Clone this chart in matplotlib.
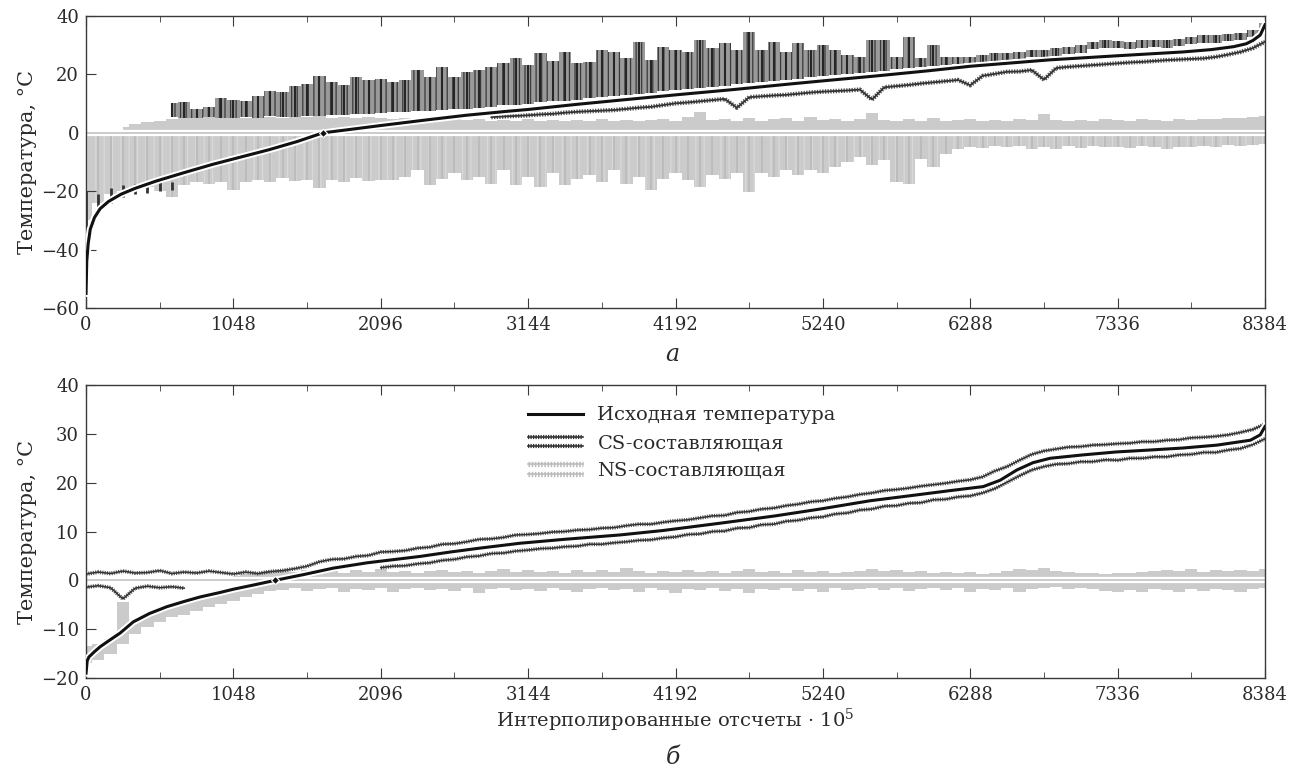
import numpy as np
import matplotlib.pyplot as plt
import matplotlib.patheffects as pe
from matplotlib.lines import Line2D
from matplotlib.legend_handler import HandlerBase

plt.rcParams['font.family'] = ['DejaVu Serif']
plt.rcParams['mathtext.fontset'] = 'dejavuserif'
plt.rcParams['hatch.linewidth'] = 0.9

# общая сетка отсчетов (шаг 8384/96)
X_MAX = 8384
xg = np.linspace(0, X_MAX, 97)
x_ticks = [0, 1048, 2096, 3144, 4192, 5240, 6288, 7336, 8384]

# ---------------- панель а ----------------
temp_a_x = [0, 5, 15, 30, 60, 100, 160, 250, 350, 500, 700, 900, 1100, 1300, 1500, 1685,
            1900, 2096, 2400, 2700, 3000, 3144, 3500, 3800, 4192, 4600, 5000, 5240, 5600,
            6000, 6288, 6855, 7336, 7800, 8000, 8160, 8250, 8300, 8350, 8384]
temp_a_y = [-55, -44, -38, -33, -29, -26, -23.5, -21, -19, -16.5, -13.6, -10.8, -8.3, -5.8,
            -3.0, 0, 1.3, 2.5, 4.3, 6.0, 7.4, 8.0, 9.8, 11.2, 13.0, 14.8, 16.7, 17.8, 19.4,
            21.3, 22.8, 25.0, 26.4, 27.7, 28.5, 29.5, 30.5, 31.7, 33.5, 37.0]
cross_a = 1685

# CS, верхняя полоса (k = 7..96)
cs_a_up_top = [10.1, 10.6, 8.0, 8.7, 11.8, 11.4, 11.0, 12.6, 14.4, 14.0,
               16.0, 16.7, 19.5, 17.5, 16.3, 19.0, 18.0, 18.6, 17.5, 18.0,
               21.5, 19.2, 22.4, 19.2, 20.9, 21.5, 22.6, 23.8, 25.5, 23.2,
               27.2, 24.7, 27.7, 23.8, 24.4, 28.3, 27.7, 25.5, 31.2, 24.9,
               29.5, 28.3, 27.7, 31.7, 28.9, 30.6, 28.3, 34.6, 28.3, 31.2,
               27.7, 30.6, 28.3, 30.0, 28.3, 26.6, 26.1, 31.7, 31.9, 26.1,
               32.9, 25.5, 30.0, 26.1, 26.1, 26.1, 26.6, 27.2, 27.4, 27.7,
               28.3, 28.5, 28.9, 29.5, 30.0, 31.2, 31.7, 31.5, 31.2, 31.7,
               31.9, 31.7, 32.3, 32.9, 33.4, 33.4, 34.0, 34.2, 35.2, 37.5]
cs_a_up_base = [5.5, 5.2, 5.0, 5.3, 5.1, 5.0, 5.4, 5.2, 5.6, 5.3,
                5.5, 5.8, 5.8, 6.0, 6.1, 6.3, 6.5, 6.8, 7.0, 7.2,
                7.4, 7.6, 7.8, 8.0, 8.2, 8.6, 9.0, 9.4, 9.7, 10.0,
                10.4, 10.8, 11.0, 11.4, 11.8, 12.2, 12.6, 13.0, 13.4, 13.8,
                14.2, 14.6, 15.0, 15.4, 15.8, 16.2, 16.6, 17.0, 17.4, 17.8,
                18.2, 18.6, 19.0, 19.4, 19.7, 20.1, 20.5, 20.9, 21.3, 21.7,
                22.1, 22.5, 22.9, 23.3, 23.5, 23.8, 24.1, 24.7, 24.9, 25.2,
                25.8, 26.0, 26.4, 27.0, 27.5, 28.7, 29.2, 29.0, 28.7, 29.2,
                29.4, 29.2, 29.8, 30.4, 30.9, 30.9, 31.5, 31.7, 32.7, 36.0]
# CS, нижняя полоса (k = 33..96)
cs_a_low = [5.4, 5.6, 5.8, 6.0, 6.3, 6.5, 6.9, 7.2, 7.4, 7.6,
            7.8, 8.2, 8.6, 8.9, 9.5, 10.1, 10.4, 10.8, 11.2, 11.6,
            8.6, 12.2, 12.5, 12.8, 13.0, 13.4, 13.8, 14.1, 14.3, 14.5,
            14.8, 11.4, 15.6, 16.0, 16.4, 16.9, 17.3, 17.7, 18.1, 16.3,
            19.5, 20.2, 20.9, 21.0, 21.5, 18.2, 22.2, 22.6, 22.9, 23.2,
            23.5, 23.8, 24.1, 24.3, 24.6, 24.9, 25.1, 25.3, 25.5, 26.0,
            26.8, 27.7, 29.0, 31.2]
# CS в начале ряда (k = 0..7)
cs_a_start_bot = [-34, -28, -24, -22, -21, -20.5, -20, -19.5]
cs_a_start_top = [-20, -21, -19, -18, -17.5, -17, -16.5, -17]

# NS, положительная часть (k = 3..96)
ns_a_up = [2.0, 3.0, 3.6, 4.2, 4.6, 5.0, 5.3, 5.5,
           5.0, 5.6, 5.2, 5.8, 5.4, 5.0, 5.6, 5.3, 5.7, 5.2,
           5.5, 5.0, 5.4, 5.1, 4.6, 5.0, 4.4, 4.8, 4.2, 4.6,
           4.3, 4.8, 4.1, 4.5, 4.0, 4.6, 4.2, 4.4, 3.9, 4.5,
           4.1, 4.7, 4.0, 4.4, 3.9, 4.3, 4.6, 4.0, 5.5, 7.0,
           4.3, 4.6, 4.0, 5.2, 4.2, 4.6, 5.0, 4.1, 5.4, 4.3,
           4.6, 4.0, 4.8, 6.8, 4.4, 4.0, 4.7, 4.2, 5.0, 4.1,
           4.4, 4.6, 4.0, 4.5, 4.2, 4.8, 4.3, 6.5, 4.4, 4.1,
           4.5, 4.2, 4.6, 4.3, 4.1, 4.7, 4.4, 4.2, 4.6, 4.5,
           4.8, 4.6, 5.0, 5.2, 5.5, 5.8]
# NS, отрицательная часть (k = 0..96)
ns_a_low = [-30, -24, -21, -20, -19, -18.5, -20, -22, -18, -17,
            -17.5, -17, -19.5, -17, -16, -17, -15.5, -16.5, -16, -19,
            -16, -17, -15.5, -16.5, -16, -16.2, -15.1, -12.8, -18, -15.7,
            -13.9, -16.2, -15.1, -17.4, -12.8, -18, -15.1, -18.5, -13.9, -18,
            -15.7, -14.5, -16.8, -12.8, -17.4, -15.1, -19.6, -15.7, -13.9, -16.2,
            -18.5, -14.5, -15.7, -13.9, -20.2, -13.9, -15.1, -12.8, -14.5, -12.8,
            -13.9, -11.6, -9.9, -8.2, -11.1, -9.4, -16.8, -17.4, -8.8, -11.6,
            -7.1, -5.4, -4.8, -5.2, -4.6, -5.0, -4.4, -5.5, -4.8, -5.6,
            -4.6, -5.2, -4.5, -5.0, -4.7, -5.3, -4.6, -4.9, -5.4, -4.7,
            -5.0, -4.4, -4.8, -4.3, -4.6, -4.2, -3.8]

# ---------------- панель б ----------------
temp_b_x = [0, 8, 20, 60, 100, 170, 242, 336, 450, 574, 700, 811, 950, 1050, 1200, 1344,
            1550, 1757, 2000, 2375, 2589, 2800, 3086, 3400, 3797, 4100, 4508, 4900, 5219,
            5575, 5906, 6150, 6380, 6500, 6619, 6734, 6855, 7092, 7328, 7570, 7800, 8044,
            8280, 8350, 8384]
temp_b_y = [-19, -16.5, -15.7, -14.6, -13.6, -12.2, -10.8, -8.5, -6.8, -5.4, -4.3, -3.4,
            -2.5, -1.8, -0.9, 0, 1.2, 2.5, 3.6, 4.9, 5.8, 6.6, 7.6, 8.4, 9.3, 10.2, 11.7,
            13.2, 14.6, 16.3, 17.5, 18.4, 19.2, 20.5, 22.6, 24.1, 25.0, 25.7, 26.3, 26.7,
            27.1, 27.7, 28.7, 29.8, 31.5]
cross_b = 1344

# CS, верхняя линия (k = 0..96)
cs_b_up = [1.3, 1.7, 1.4, 1.9, 1.5, 1.6, 2.0, 1.4, 1.7, 1.5, 1.9, 1.6, 1.3, 1.7, 1.4,
           1.8, 2.0, 2.4, 2.9, 3.8, 4.3, 4.4, 4.9, 5.1, 5.8, 5.9, 6.1, 6.6, 6.8, 7.4,
           7.5, 7.9, 8.4, 8.5, 8.8, 9.3, 9.4, 9.6, 9.9, 10.0, 10.3, 10.4, 10.7, 10.8,
           11.2, 11.5, 11.5, 11.9, 12.2, 12.4, 12.8, 13.2, 13.3, 13.9, 14.1, 14.6, 14.8,
           15.3, 15.6, 16.1, 16.3, 16.8, 17.1, 17.6, 17.9, 18.4, 18.6, 18.9, 19.3, 19.6,
           19.9, 20.3, 20.6, 21.2, 22.4, 23.3, 24.6, 25.8, 26.5, 26.9, 27.3, 27.4, 27.7,
           27.8, 28.0, 28.1, 28.4, 28.4, 28.7, 28.8, 29.2, 29.3, 29.5, 29.8, 30.3, 30.9,
           32.0]
# CS, нижняя линия: начало (k = 0..8) и основная часть (k = 24..96)
cs_b_low_start = [-1.4, -1.1, -1.5, -3.8, -1.6, -1.2, -1.5, -1.3, -1.6]
cs_b_low = [2.6, 2.9, 3.0, 3.4, 3.6, 4.1, 4.3, 4.8, 5.0, 5.5, 5.6, 6.0, 6.2, 6.5,
            6.6, 6.9, 7.0, 7.4, 7.4, 7.7, 7.9, 8.2, 8.3, 8.7, 8.9, 9.4, 9.5, 10.0, 10.1,
            10.7, 10.8, 11.4, 11.5, 12.1, 12.3, 12.8, 13.0, 13.6, 13.8, 14.4, 14.6, 15.2,
            15.3, 15.8, 15.9, 16.5, 16.6, 17.1, 17.3, 17.9, 18.8, 20.1, 21.4, 22.6, 23.3,
            23.8, 23.9, 24.3, 24.3, 24.7, 24.6, 25.0, 25.0, 25.3, 25.3, 25.7, 25.8, 26.2,
            26.2, 26.7, 27.0, 27.8, 29.0]
# NS, положительная часть (k = 12..96)
ns_b_up = [0.9, 1.2, 1.6, 1.9, 2.1, 1.8, 2.2, 1.7, 2.0, 1.6, 2.1, 1.8, 2.3, 1.7, 2.0,
           1.6, 1.9, 2.2, 1.7, 2.0, 1.6, 1.9, 2.4, 1.8, 2.1, 1.7, 2.0, 1.6, 2.2, 1.8,
           2.1, 1.7, 2.5, 1.9, 1.6, 2.0, 1.8, 2.2, 1.7, 2.0, 1.6, 1.9, 2.3, 1.8, 2.0,
           1.6, 2.1, 1.7, 1.9, 1.5, 1.8, 2.0, 2.4, 1.9, 2.1, 1.7, 1.9, 1.6, 1.8, 1.5,
           1.7, 1.4, 1.6, 2.0, 2.3, 2.1, 2.5, 1.9, 1.7, 1.5, 1.6, 1.4, 1.6, 1.5, 1.7,
           1.9, 2.2, 2.0, 2.3, 1.8, 2.1, 1.9, 2.2, 2.0, 2.3]
# NS, отрицательная часть: верхняя граница в начале (k = 0..15), нижняя граница (k = 0..96)
ns_b_low_top = [-13.5, -13.0, -12.0, -4.5, -8.5, -7.0, -6.0, -5.2, -4.5, -3.8, -3.2,
                -2.6, -2.0, -1.4, -0.8, -0.6]
ns_b_low = [-17.0, -16.3, -15.0, -13.0, -11.0, -9.5, -8.5, -7.6, -7.0, -6.2, -5.5, -4.8,
            -4.2, -3.4, -2.8, -2.2, -2.0, -1.6, -2.2, -1.8, -1.5, -2.3, -1.7, -2.0, -1.6,
            -2.4, -1.8, -1.5, -2.0, -1.7, -2.2, -1.6, -2.5, -1.8, -1.5, -2.0, -1.7, -2.1,
            -1.6, -1.9, -2.4, -1.7, -1.5, -2.0, -1.8, -2.3, -1.6, -1.9, -2.5, -1.7, -2.0,
            -1.6, -2.2, -1.8, -2.6, -1.7, -1.9, -1.5, -2.1, -1.7, -2.3, -1.6, -2.0, -1.8,
            -1.5, -1.9, -1.6, -2.2, -1.7, -1.5, -1.9, -1.6, -2.3, -1.8, -2.0, -1.6, -2.4,
            -1.8, -1.6, -1.4, -1.7, -1.5, -1.8, -2.1, -2.4, -1.9, -2.3, -1.7, -2.0, -2.4,
            -1.8, -2.2, -1.7, -2.0, -2.3, -1.8, -1.5]

# ---------------- оформление ----------------
C_CURVE = '#111111'
C_CS = '#333333'
C_CS_FILL = '#9a9a9a'
C_NS = '#cbcbcb'
C_NS_DARK = '#bcbcbc'
C_ZERO = '#bdbdbd'
C_AXIS = '#3a3a3a'
C_TEXT = '#2a2a2a'
FUZZ = (0, (0.3, 0.3))  # "шумная" фактура линий
halo = [pe.Stroke(linewidth=5, foreground='white'), pe.Normal()]
zero_halo = [pe.Stroke(linewidth=4.5, foreground='white'), pe.Normal()]


def fuzzy_line(ax, x, y, color, lw=1.1, width=2.8):
    ax.plot(x, y, color=color, lw=lw, zorder=3)
    ax.plot(x, y, color=color, lw=width, linestyle=FUZZ, alpha=0.85, zorder=3)


fig = plt.figure(figsize=(12.96, 7.71), dpi=100)
ax_a = fig.add_axes([0.0664, 0.6005, 0.9097, 0.3787])
ax_b = fig.add_axes([0.0664, 0.1206, 0.9097, 0.3800])

# --- а ---
ax_a.fill_between(xg, 0, ns_a_low, step='mid', facecolor=C_NS, edgecolor='#d9d9d9',
                  hatch='||', lw=0, zorder=1)
ax_a.vlines(xg, 0, ns_a_low, colors=C_NS_DARK, lw=1.4, zorder=1)
ax_a.fill_between(xg[3:], 0, ns_a_up, step='mid', facecolor=C_NS, lw=0, zorder=1)
ax_a.axhline(0, color=C_ZERO, lw=1.1, path_effects=zero_halo, zorder=2)

ax_a.fill_between(xg[7:], cs_a_up_base, cs_a_up_top, step='mid', facecolor=C_CS_FILL,
                  edgecolor='#3a3a3a', hatch='|||', lw=0, zorder=3)
ax_a.vlines(xg[7:], cs_a_up_base, cs_a_up_top, colors='#262626', lw=1.5, zorder=3)
fuzzy_line(ax_a, xg[33:], cs_a_low, C_CS, lw=1.3, width=3.2)
ax_a.vlines(xg[:8], cs_a_start_bot, cs_a_start_top, colors=C_CS, lw=2.0, zorder=3)

ax_a.plot(temp_a_x, temp_a_y, color=C_CURVE, lw=2.2, path_effects=halo, zorder=5)
ax_a.plot([cross_a], [0], marker='D', ms=4.5, color=C_CURVE, mec='white', mew=0.8, zorder=6)
ax_a.set_ylim(-60, 40)
ax_a.set_yticks([-60, -40, -20, 0, 20, 40])

# --- б ---
ax_b.fill_between(xg[:16], ns_b_low_top, ns_b_low[:16], step='mid', facecolor=C_NS, lw=0,
                  zorder=1)
ax_b.fill_between(xg[15:], 0, ns_b_low[15:], step='mid', facecolor=C_NS, lw=0, zorder=1)
ax_b.fill_between(xg[12:], 0, ns_b_up, step='mid', facecolor=C_NS, lw=0, zorder=1)
ax_b.axhline(0, color=C_ZERO, lw=1.1, path_effects=zero_halo, zorder=2)

fuzzy_line(ax_b, xg, cs_b_up, C_CS)
fuzzy_line(ax_b, xg[:9], cs_b_low_start, C_CS)
fuzzy_line(ax_b, xg[24:], cs_b_low, C_CS)

ax_b.plot(temp_b_x, temp_b_y, color=C_CURVE, lw=2.2, path_effects=halo, zorder=5)
ax_b.plot([cross_b], [0], marker='D', ms=4.5, color=C_CURVE, mec='white', mew=0.8, zorder=6)
ax_b.set_ylim(-20, 40)
ax_b.set_yticks([-20, -10, 0, 10, 20, 30, 40])

for ax in (ax_a, ax_b):
    ax.set_xlim(0, X_MAX)
    ax.set_xticks(x_ticks)
    ax.set_xticks([t + 524 for t in x_ticks[:-1]], minor=True)
    ax.tick_params(axis='x', which='both', direction='in', top=True, bottom=True,
                   color=C_AXIS, labelcolor=C_TEXT, labelsize=13)
    ax.tick_params(axis='x', which='major', length=7, pad=6)
    ax.tick_params(axis='x', which='minor', length=4.5)
    ax.tick_params(axis='y', direction='in', length=7, left=True, right=False,
                   color=C_AXIS, labelcolor=C_TEXT, labelsize=13, pad=5)
    for s in ax.spines.values():
        s.set_color(C_AXIS)
        s.set_linewidth(1.0)
    ax.set_ylabel('Температура, °C', fontsize=15, color=C_TEXT, labelpad=3)

ax_b.set_xlabel('Интерполированные отсчеты · 10$^5$', fontsize=14, color=C_TEXT, labelpad=2)


# легенда: CS и NS показаны двумя линиями
class TwoLines(HandlerBase):
    def create_artists(self, legend, orig_handle, xdescent, ydescent, width, height,
                       fontsize, trans):
        out = []
        for yy in (0.85 * height, 0.15 * height):
            y0 = yy - ydescent
            for lw, ls in ((1.2, '-'), (orig_handle.get_linewidth(), FUZZ)):
                ln = Line2D([-xdescent, -xdescent + width], [y0, y0],
                            color=orig_handle.get_color(), lw=lw, linestyle=ls)
                ln.set_transform(trans)
                out.append(ln)
        return out


h_temp = Line2D([], [], color=C_CURVE, lw=2.2)
h_cs = Line2D([], [], color=C_CS, lw=3.0)
h_ns = Line2D([], [], color=C_NS_DARK, lw=3.8)
ax_b.legend([h_temp, h_cs, h_ns],
            ['Исходная температура', 'CS-составляющая', 'NS-составляющая'],
            handler_map={h_cs: TwoLines(), h_ns: TwoLines()},
            loc='upper left', bbox_to_anchor=(0.367, 0.96), frameon=False,
            fontsize=14, handlelength=2.8, handletextpad=0.75, labelspacing=0.5,
            borderpad=0, labelcolor=C_TEXT)

fig.text(0.519, 1 - 355 / 771, 'а', style='italic', fontsize=17, ha='center', va='center',
         color=C_TEXT)
fig.text(0.519, 1 - 757 / 771, 'б', style='italic', fontsize=17, ha='center', va='center',
         color=C_TEXT)

fig.savefig('out.png', dpi=100)
